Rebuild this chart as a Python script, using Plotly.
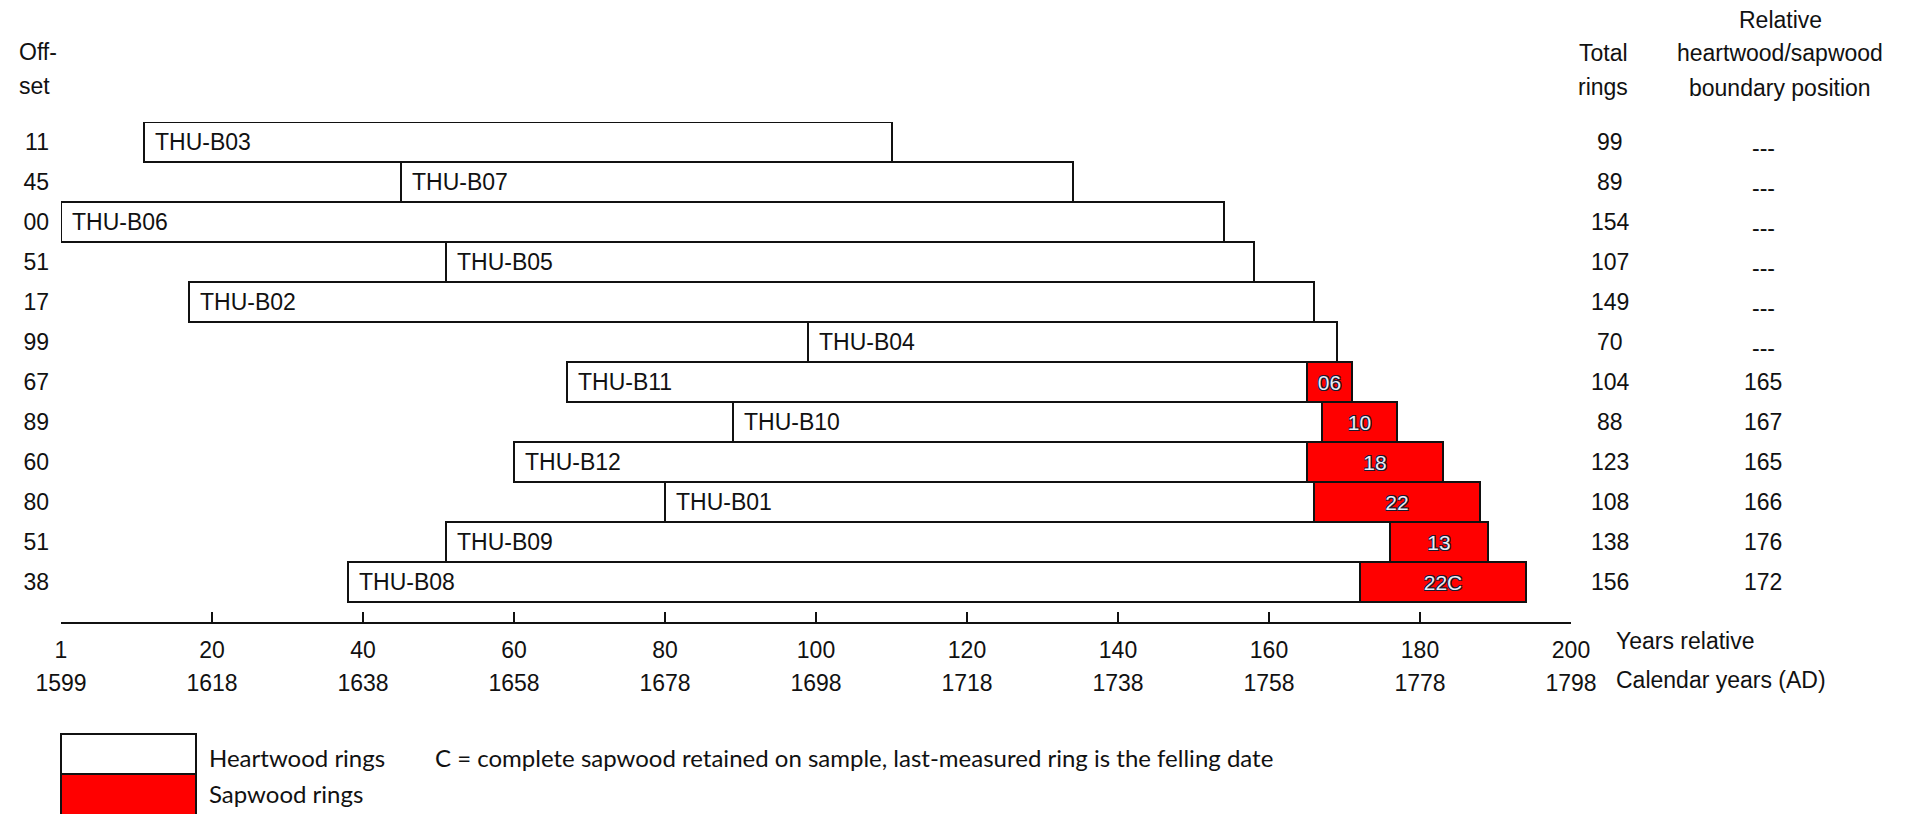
import plotly.graph_objects as go

# ---------------- data ----------------
samples = ["THU-B03", "THU-B07", "THU-B06", "THU-B05", "THU-B02", "THU-B04",
           "THU-B11", "THU-B10", "THU-B12", "THU-B01", "THU-B09", "THU-B08"]
offsets = [11, 45, 0, 51, 17, 99, 67, 89, 60, 80, 51, 38]
offset_labels = ["11", "45", "00", "51", "17", "99", "67", "89", "60", "80", "51", "38"]
total_rings = [99, 89, 154, 107, 149, 70, 104, 88, 123, 108, 138, 156]
hs_boundary = [None, None, None, None, None, None, 165, 167, 165, 166, 176, 172]
boundary_labels = ["---", "---", "---", "---", "---", "---",
                   "165", "167", "165", "166", "176", "172"]
sap_labels = [None, None, None, None, None, None, "06", "10", "18", "22", "13", "22C"]

rel_ticks = [0, 20, 40, 60, 80, 100, 120, 140, 160, 180, 200]
rel_labels = ["1", "20", "40", "60", "80", "100", "120", "140", "160", "180", "200"]
cal_labels = ["1599", "1618", "1638", "1658", "1678", "1698", "1718", "1738",
              "1758", "1778", "1798"]

# ---------------- layout geometry (page pixels) ----------------
PAGE_W, PAGE_H = 1917, 814
BODY = 8                      # default page body margin
W, H = PAGE_W - BODY, PAGE_H - BODY
L, R = 61, 1571               # plot area left/right (page px)
T, B = 122, 622               # plot area top/bottom (page px)

FONT = "Liberation Sans, Arial, sans-serif"
LFONT = "Lato, Open Sans, sans-serif"
TXT = "#111111"
FS = 23
LFS = 24


def pxx(xp):
    return (xp - L) / (R - L)


def pyy(yp):
    return (B - yp) / (B - T)


rows = list(range(len(samples)))
heart_len = []
for o, t, b in zip(offsets, total_rings, hs_boundary):
    end = b if b is not None else o + t
    heart_len.append(end - o)

sap_rows, sap_base, sap_len, sap_text = [], [], [], []
for i, (o, t, b, s) in enumerate(zip(offsets, total_rings, hs_boundary, sap_labels)):
    if b is not None:
        sap_rows.append(i)
        sap_base.append(b)
        sap_len.append(o + t - b)
        sap_text.append(s)

fig = go.Figure()

fig.add_trace(go.Bar(
    orientation="h", y=rows, x=heart_len, base=offsets, width=1,
    marker=dict(color="white", line=dict(color="#111111", width=2)),
    hoverinfo="skip", showlegend=False,
))

outline = "#1a1a2e"
fig.add_trace(go.Bar(
    orientation="h", y=sap_rows, x=sap_len, base=sap_base, width=1,
    marker=dict(color="#ff0000", line=dict(color="#111111", width=2)),
    text=sap_text, textposition="inside", insidetextanchor="middle",
    textangle=0, constraintext="none",
    textfont=dict(family=FONT, size=21, color="#e8ecf8",
                  shadow=f"-1px -1px 0 {outline}, 1px -1px 0 {outline}, "
                         f"-1px 1px 0 {outline}, 1px 1px 0 {outline}"),
    hoverinfo="skip", showlegend=False,
))

# invisible trace to carry the calendar-year axis
fig.add_trace(go.Scatter(x=[rel_ticks[0], rel_ticks[-1]], y=[0, 0], xaxis="x2",
                         mode="lines", line=dict(width=0), opacity=0,
                         hoverinfo="skip", showlegend=False))

annotations = []
# sample names inside bars
for i, (name, o) in enumerate(zip(samples, offsets)):
    annotations.append(dict(x=o, y=i, xref="x", yref="y", text=name,
                            xanchor="left", yanchor="middle", xshift=9,
                            showarrow=False, font=dict(family=FONT, size=FS, color=TXT)))

# total rings column
for i, t in enumerate(total_rings):
    annotations.append(dict(x=pxx(1610), y=i, xref="paper", yref="y", text=str(t),
                            xanchor="center", yanchor="middle", showarrow=False,
                            font=dict(family=FONT, size=FS, color=TXT)))
# boundary column
for i, bl in enumerate(boundary_labels):
    annotations.append(dict(x=pxx(1763), y=i, xref="paper", yref="y", text=bl,
                            xanchor="center", yanchor="middle", showarrow=False,
                            yshift=-6 if bl == "---" else 0,
                            font=dict(family=FONT, size=FS, color=TXT)))


def head(text, xp, yp, anchor="center", fam=FONT, size=FS):
    annotations.append(dict(x=pxx(xp), y=pyy(yp), xref="paper", yref="paper", text=text,
                            xanchor=anchor, yanchor="middle", showarrow=False,
                            font=dict(family=fam, size=size, color=TXT)))


head("Off-", 17, 52, "left")
head("set", 17, 86, "left")
head("Total", 1603, 53)
head("rings", 1603, 87)
head("Relative", 1780, 20)
head("heartwood/sapwood", 1780, 53)
head("boundary position", 1780, 88)
head("Years relative", 1614, 641, "left")
head("Calendar years (AD)", 1614, 680, "left")

# legend text
head("Heartwood rings", 207, 757, "left", LFONT, LFS)
head("Sapwood rings", 207, 794, "left", LFONT, LFS)
head("C = complete sapwood retained on sample, last-measured ring is the felling date",
     433, 757, "left", LFONT, LFS)

shapes = [
    dict(type="rect", xref="paper", yref="paper", x0=pxx(61), x1=pxx(196),
         y0=pyy(734), y1=pyy(774), fillcolor="white", line=dict(color="#111111", width=2)),
    dict(type="rect", xref="paper", yref="paper", x0=pxx(61), x1=pxx(196),
         y0=pyy(774), y1=pyy(830), fillcolor="#ff0000", line=dict(color="#111111", width=2)),
]

fig.update_layout(
    width=W, height=H,
    margin=dict(l=L - BODY, r=PAGE_W - R, t=T - BODY, b=PAGE_H - B, pad=0, autoexpand=False),
    paper_bgcolor="white", plot_bgcolor="white",
    barmode="overlay", bargap=0,
    showlegend=False,
    annotations=annotations, shapes=shapes,
    xaxis=dict(range=[rel_ticks[0], rel_ticks[-1]], tickvals=rel_ticks, ticktext=rel_labels,
               showgrid=False, zeroline=False, showline=True, linecolor="#111111",
               linewidth=2, ticks="inside", ticklen=10, tickwidth=2, tickcolor="#111111",
               tickfont=dict(family=FONT, size=FS, color=TXT), ticklabelstandoff=6,
               fixedrange=True),
    xaxis2=dict(range=[rel_ticks[0], rel_ticks[-1]], overlaying="x", anchor="y", side="bottom",
                tickvals=rel_ticks, ticktext=cal_labels, showgrid=False, zeroline=False,
                showline=False, ticks="", tickfont=dict(family=FONT, size=FS, color=TXT),
                ticklabelstandoff=45, fixedrange=True),
    yaxis=dict(range=[len(samples), -0.5], tickvals=rows, ticktext=offset_labels,
               showgrid=False, zeroline=False, showline=False, ticks="",
               tickfont=dict(family=FONT, size=FS, color=TXT), ticklabelstandoff=11,
               fixedrange=True),
)

fig.write_html("out.html")
